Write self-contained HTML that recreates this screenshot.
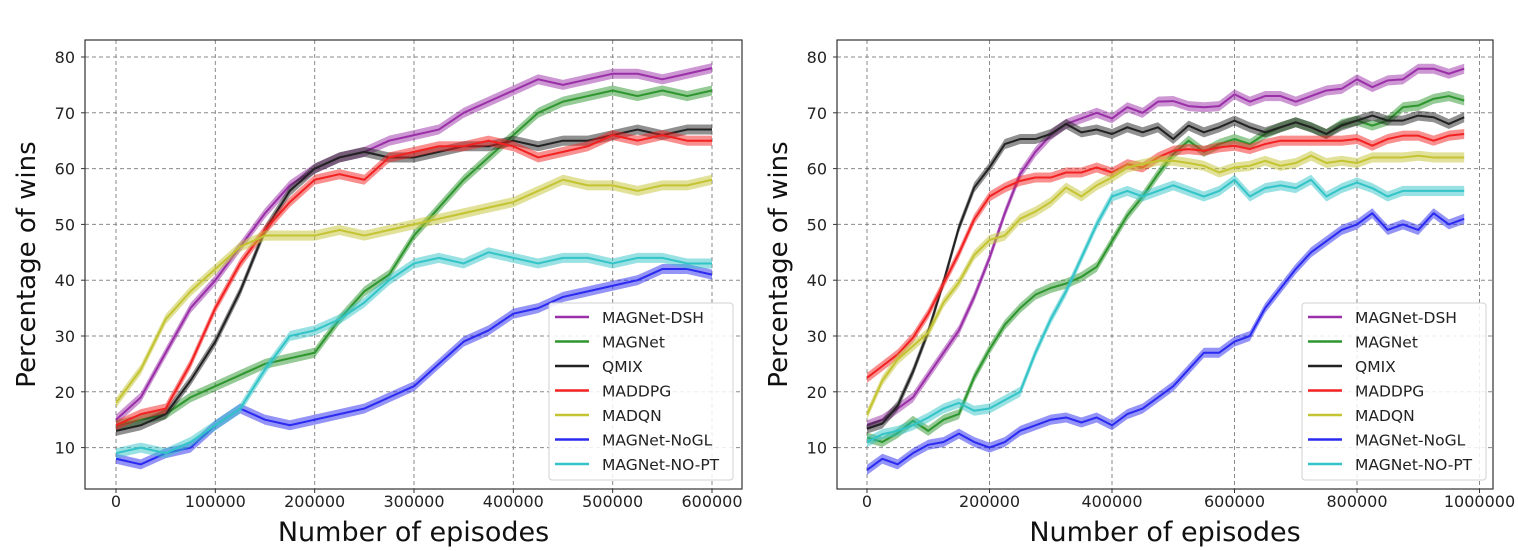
<!DOCTYPE html>
<html><head><meta charset="utf-8"><style>
body{margin:0;background:#fff;}
svg{display:block;font-family:"DejaVu Sans","Liberation Sans",sans-serif;}
</style></head><body>
<svg id="chart" width="1518" height="551" viewBox="0 0 1518 551" xmlns="http://www.w3.org/2000/svg"></svg>
<script>
const seriesNames = ["MAGNet-DSH","MAGNet","QMIX","MADDPG","MADQN","MAGNet-NoGL","MAGNet-NO-PT"];
const seriesColors = ["#9a2fa8","#2e962e","#222222","#f22222","#c4c433","#2a2af0","#33c4c8"];
const yTicks = [10,20,30,40,50,60,70,80];
const leftXTicks = [0,100000,200000,300000,400000,500000,600000];
const rightXTicks = [0,200000,400000,600000,800000,1000000];
const leftStep = 25000;
const rightStep = 25000;
const leftDSH = [15,19,27,35,40,46,52,57,60,62,63,65,66,67,70,72,74,76,75,76,77,77,76,77,78];
const leftMAGNet = [14,15,16,19,21,23,25,26,27,33,38,41,48,53,58,62,66,70,72,73,74,73,74,73,74];
const leftQMIX = [13,14,16,22,29,38,49,56,60,62,63,62,62,63,64,64,65,64,65,65,66,67,66,67,67];
const leftMADDPG = [14,16,17,25,35,43,49,54,58,59,58,62,63,64,64,65,64,62,63,64,66,65,66,65,65];
const leftMADQN = [18,24,33,38,42,46,48,48,48,49,48,49,50,51,52,53,54,56,58,57,57,56,57,57,58];
const leftNoGL = [8,7,9,10,14,17,15,14,15,16,17,19,21,25,29,31,34,35,37,38,39,40,42,42,41];
const leftNoPT = [9,10,9,11,14,17,24,30,31,33,36,40,43,44,43,45,44,43,44,44,43,44,44,43,43];
const rightDSH = [14,15,17,19,23,27,31,37,44,52,59,63,66,68,69,70,69,71,70,72,72.1,71.2,71,71.2,73.3,72,73,73,72,73,74,74.3,76,74.6,75.8,76,77.9,77.9,77,77.9];
const rightMAGNet = [11.8,11,12.6,14.8,13,15,16,22.6,27.6,32,35,37.4,38.6,39.4,40.6,42.4,47,51.6,55,59,62.6,65,63,64.4,65.3,64.4,66.2,67.4,68.3,67.4,66.2,68,68.6,67.7,68.6,71,71.3,72.5,73,72.2];
const rightQMIX = [13.4,14.3,17.5,23.6,30.8,39.7,49.4,56.6,60.2,64.4,65.3,65.3,66.2,68,66.5,67,66.2,67.4,66.5,67.4,65.3,67.7,66.5,67.4,68.6,67.4,66.5,67.4,68.3,67.4,66.2,67.7,68.6,69.5,68.6,68.6,69.5,69.2,68,69.2];
const rightMADDPG = [22.5,24.6,26.7,29.7,34,39.4,44.8,50.9,55,56.6,57.8,58.4,58.4,59.3,59.3,60.2,59.3,60.8,60.2,62,63.2,63.5,63.2,63.8,64.1,63.5,64.4,65,65,65,65,65,65.3,64.1,65.3,65.9,65.9,65,65.9,66.2];
const rightMADQN = [15.9,22,25.8,28.2,30.6,36,39.6,44.5,47.2,48,51,52.3,54,56.6,55,57,58.4,60.2,60.8,61.4,61.4,61,60.5,59.3,60.2,60.5,61.4,60.5,61,62.3,61,61.4,61,62,62,62,62.3,62,62,62];
const rightNoGL = [6,8,7,9,10.5,11,12.5,11,10,11,13,14,15,15.4,14.5,15.4,14,16,17,19,21,24,27,27,29,30,35,38.5,42,45,47,49,50,52,49,50,49,52,50,51];
const rightNoPT = [11,12.4,13,14,15.4,17,18,16.6,17,18.5,20,27,33,38,44,50,55,56,55,56,57,56,55,56,58,55,56.5,57,56.5,58,55,56.5,57.5,56.5,55,56,56,56,56,56];

const NS = "http://www.w3.org/2000/svg";
const svg = document.getElementById('chart');
function mk(tag, attrs, parent){ const e=document.createElementNS(NS,tag); for(const k in attrs) e.setAttribute(k,attrs[k]); (parent||svg).appendChild(e); return e; }

function drawPanel(cfg){
  const g = mk('g',{});
  
  
  const xs = v => cfg.x0 + (v - 0) * cfg.xScale;
  const ys = v => cfg.y80 + (80 - v) * cfg.yScale;
  const L=cfg.left, R=cfg.right, T=cfg.top, B=cfg.bottom;
  // gridlines
  cfg.xTicks.forEach(t=>{
    const l = mk('line',{x1:xs(t),x2:xs(t),y1:T,y2:B,stroke:'#8a8a8a','stroke-width':1,'stroke-dasharray':'4,3'},g);
    
    
    const tk = mk('text',{x:xs(t),y:B+18,'font-size':16,'text-anchor':'middle',fill:'#222'},g);
    tk.textContent = String(t);
    
    
    mk('line',{x1:xs(t),x2:xs(t),y1:B,y2:B+4,stroke:'#333'},g);
  });
  yTicks.forEach(t=>{
    const l = mk('line',{x1:L,x2:R,y1:ys(t),y2:ys(t),stroke:'#8a8a8a','stroke-width':1,'stroke-dasharray':'4,3'},g);
    
    
    const tk = mk('text',{x:L-10,y:ys(t)+6,'font-size':16,'text-anchor':'end',fill:'#222'},g);
    tk.textContent = String(t);
    
    
    mk('line',{x1:L-4,x2:L,y1:ys(t),y2:ys(t),stroke:'#333'},g);
  });
  // series
  cfg.data.forEach((arr,i)=>{
    const pts = arr.map((v,j)=>[xs(j*cfg.step), ys(v)]);
    const up = arr.map((v,j)=>xs(j*cfg.step)+','+ys(v+0.9));
    const dn = arr.map((v,j)=>xs(j*cfg.step)+','+ys(v-0.9)).reverse();
    const band = mk('polygon',{points:up.concat(dn).join(' '),fill:seriesColors[i],'fill-opacity':0.5,stroke:'none'},g);
    
    
    const line = mk('polyline',{points:pts.map(p=>p.join(',')).join(' '),fill:'none',stroke:seriesColors[i],'stroke-width':2,'stroke-linejoin':'round'},g);
    
    
  });
  const frame = mk('rect',{x:L,y:T,width:R-L,height:B-T,fill:'none',stroke:'#333','stroke-width':1.2},g);
  
  
  // legend
  const lg = mk('g',{},g);
  
  
  mk('rect',{x:cfg.legX,y:303,width:184,height:177,rx:3,fill:'#fff','fill-opacity':0.85,stroke:'#d0d0d0'},lg);
  seriesNames.forEach((n,i)=>{
    const y = 317 + i*24.5;
    mk('line',{x1:cfg.legX+6,x2:cfg.legX+40,y1:y,y2:y,stroke:seriesColors[i],'stroke-width':2.5},lg);
    const t = mk('text',{x:cfg.legX+53,y:y+6,'font-size':15.5,fill:'#222'},lg);
    t.textContent = n;
    
    
  });
  const xt = mk('text',{x:(L+R)/2,y:541,'font-size':27,'text-anchor':'middle',fill:'#111'},g);
  xt.textContent='Number of episodes';
  
  
  const yt = mk('text',{x:0,y:0,'font-size':26,'text-anchor':'middle',fill:'#111',transform:`translate(${L-50},${(T+B)/2}) rotate(-90)`},g);
  yt.textContent='Percentage of wins';
  
  
}

drawPanel({name:'left-panel',left:85,right:742,top:40,bottom:489,x0:116,xScale:(712-116)/600000,y80:57,yScale:5.58,
  xTicks:leftXTicks,step:leftStep,legX:549,
  data:[leftDSH,leftMAGNet,leftQMIX,leftMADDPG,leftMADQN,leftNoGL,leftNoPT]});
drawPanel({name:'right-panel',left:837,right:1493,top:40,bottom:489,x0:867,xScale:(1357-867)/800000,y80:57,yScale:5.58,
  xTicks:rightXTicks,step:rightStep,legX:1302,
  data:[rightDSH,rightMAGNet,rightQMIX,rightMADDPG,rightMADQN,rightNoGL,rightNoPT]});
</script>
</body></html>
